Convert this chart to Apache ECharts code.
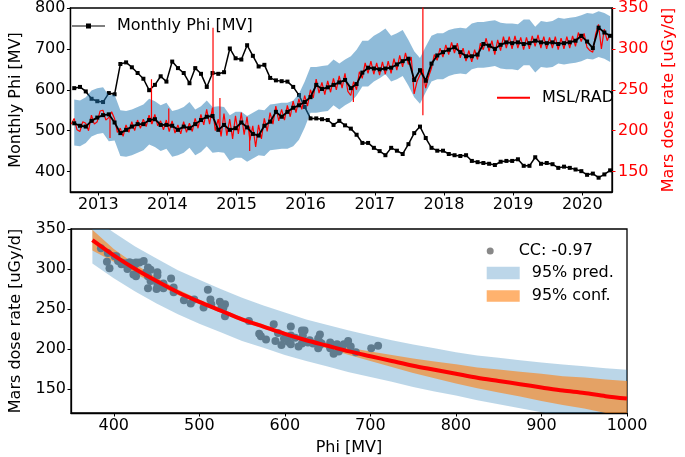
<!DOCTYPE html>
<html><head><meta charset="utf-8">
<script src="https://cdn.jsdelivr.net/npm/echarts@6/dist/echarts.min.js"></script>
<style>html,body{margin:0;padding:0;background:#fff}#c{width:685px;height:457px}</style>
</head><body><div id="c"></div>
<script>
// ---------- data ----------
const monthStart = 2012.653;      // decimal year of first monthly value
const monthStep = 1 / 12;
const monthlyPhi = [604,607,596,578,572,570,592,589,663,667,
 655,641,627,599,612,633,620,669,653,641,
 616,653,639,607,641,639,643,701,677,674,
 709,683,657,661,629,623,621,620,607,587,
 558,530,530,528,526,514,524,513,505,490,
 470,470,458,450,440,458,451,443,467,494,
 510,482,458,451,451,443,440,438,440,426,
 423,421,419,416,424,426,426,430,414,414,
 435,419,421,418,409,412,409,405,401,392,
 395,385,393,403];
const monthlyDose = [209,206,205,212,216,219,220,210,197,201,
 205,208,208,213,214,207,207,206,201,205,
 203,208,213,217,218,201,207,201,203,210,
 204,196,194,206,211,223,217,223,228,231,
 235,241,256,251,253,256,259,262,252,257,
 271,277,276,275,276,277,281,285,288,262,
 274,261,282,292,296,299,302,296,291,291,
 293,306,304,300,305,308,307,308,306,307,
 310,308,307,308,306,307,308,310,316,309,
 301,326,320,316];
const predBandLow = [182,181,185,193,196,197,187,188,169,168,
 170,173,176,183,180,175,178,168,170,173,
 179,170,174,181,173,174,173,163,167,167,
 162,166,170,169,176,177,178,178,181,189,
 204,222,222,223,224,231,226,231,235,243,
 254,254,260,264,269,260,263,267,255,241,
 233,247,260,263,263,267,269,270,269,275,
 277,277,278,279,276,275,275,274,280,280,
 271,278,277,278,282,281,282,283,285,288,
 287,290,288,284];
const predBandHigh = [238,237,241,249,252,253,243,244,225,224,
 226,229,232,239,236,231,234,224,226,229,
 235,226,230,237,229,230,229,219,223,223,
 218,222,226,225,232,233,234,234,237,245,
 260,278,278,279,280,287,282,287,291,299,
 310,310,316,320,325,316,319,323,311,297,
 289,303,316,319,319,323,325,326,325,331,
 333,333,334,335,332,331,331,330,336,336,
 327,334,333,334,338,337,338,339,341,344,
 343,346,344,340];

const radStart = 2012.61;          // MSL/RAD series, half-month samples
const radStep = 1 / 24;
const radDose = [208,
 215,201, 199,211, 209,200, 219,208, 211,224, 225,213, 216,223, 215,198, 203,193, 207,198,
 211,200, 213,203, 214,205, 219,208, 220,206, 212,201, 213,199, 212,197, 207,196, 211,198,
 209,199, 215,203, 220,207, 226,208, 228,200, 214,193, 221,194, 214,190, 218,196, 222,195,
 217,188, 206,180, 207,190, 215,199, 222,208, 230,212, 226,213, 231,217, 236,222, 239,226,
 243,230, 250,240, 263,246, 259,244, 261,247, 264,250, 267,252, 270,248, 243,260, 250,272,
 264,283, 270,285, 269,283, 268,284, 269,285, 270,288, 274,292, 278,295, 281,290, 245,260,
 268,275, 252,266, 276,293, 286,301, 290,305, 293,308, 295,307, 289,301, 285,298, 284,299,
 287,307, 299,313, 297,310, 293,311, 298,315, 301,315, 300,316, 301,314, 299,314, 300,316,
 303,317, 301,315, 300,314, 301,315, 299,313, 300,315, 301,316, 303,320, 309,319, 302,298,
 296,318, 330,300, 324,310, 318];
const spikeYear = [2013.17, 2013.77, 2014.02, 2014.66, 2014.76, 2015.19, 2016.69, 2017.695];
const spikeLow  = [191, 208, 205, 215, 205, 175, 235, 219];
const spikeHigh = [220, 263, 227, 326, 240, 205, 256, 360];

const fitPhi   = [375,400,425,450,475,500,525,550,575,600,625,650,675,700,725,750,775,800,825,850,875,900,925,950,975,1000];
const fitDose  = [336,317,300,285,271,259,248,237,228,219,211,204,197,191,185,179,174,169,164,160,156,152,148,145,141,138];
const predLow  = [307,288.5,272,257,243.5,231.5,221,210,201.5,192.5,185,178,171,165,159,152.5,147,142,136,131,126,121,115.5,111.5,106,102];
const predHigh = [365,345.5,328,313,298.5,286.5,275,264,254.5,245.5,237,230,223,217,211,205.5,201,196,192,189,186,183,180.5,178.5,176,174];
const confLow  = [323,309,294,280.5,267.5,256,245.5,234.5,225.5,216.5,208,200.5,192.5,185,177.5,170,163.5,157,151,145.5,140.5,135,130,125.5,120,116];
const confHigh = [349,325,306,289.5,274.5,262,250.5,239.5,230.5,221.5,214,207.5,201.5,197,192.5,188,184.5,181,177,174.5,171.5,169,166,164.5,162,160];

const yearTicks = [2013,2014,2015,2016,2017,2018,2019,2020];
const phiTicksTop = [400,500,600,700,800];
const doseTicksTop = [150,200,250,300,350];
const phiTicksBottom = [400,500,600,700,800,900,1000];
const doseTicksBottom = [150,200,250,300,350];
const ccLabel = 'CC: -0.97';

// ---------- chart ----------
const FONT = 'DejaVu Sans';
const monthX = i => monthStart + i * monthStep;
const phiData = monthlyPhi.map((v, i) => [monthX(i), v]);
const doseData = monthlyDose.map((v, i) => [monthX(i), v]);
const radData = radDose.map((v, k) => [radStart + k * radStep, v]);

function axis(o) {
  const base = {
    type: 'value', scale: true,
    splitLine: {show: false},
    axisLine: {show: true, onZero: false, lineStyle: {color: '#000', width: 1.3}},
    axisTick: {show: true, length: 3.5, lineStyle: {color: o.color || '#000', width: 1}, customValues: o.ticks},
    axisLabel: {customValues: o.ticks, fontSize: 16, fontFamily: FONT, color: o.color || '#000', margin: o.margin || 5,
      formatter: v => String(Math.round(v))},
    nameLocation: 'middle',
    nameTextStyle: {fontSize: 16, fontFamily: FONT, color: o.color || '#000'}
  };
  return Object.assign(base, o.extra);
}

// band polygon drawn through the axes' own scales
function band(name, xs, lo, hi, color, xi, yi, z) {
  return {
    type: 'custom', name: name, xAxisIndex: xi, yAxisIndex: yi, z: z, silent: true,
    itemStyle: {color: color},
    data: [[xs[0], lo[0]]],
    renderItem: (params, api) => {
      const pts = [];
      for (let i = 0; i < xs.length; i++) pts.push(api.coord([xs[i], hi[i]]));
      for (let i = xs.length - 1; i >= 0; i--) pts.push(api.coord([xs[i], lo[i]]));
      const cs = params.coordSys;
      return {
        type: 'polygon', shape: {points: pts}, style: {fill: color},
        clipPath: {type: 'rect', shape: {x: cs.x, y: cs.y, width: cs.width, height: cs.height}}
      };
    }
  };
}

const monthXs = monthlyPhi.map((v, i) => monthX(i));

const spikeSeries = spikeYear.map((y, i) => ({
  type: 'line', name: 'spike' + i, xAxisIndex: 0, yAxisIndex: 1, symbol: 'none', z: 4,
  lineStyle: {color: '#ff0000', width: 1.2}, data: [[y, spikeLow[i]], [y, spikeHigh[i]]]
}));

const legendText = {fontSize: 16, fontFamily: FONT, color: '#000', lineHeight: 16, padding: [0, 0, 0, 7]};

const option = {
  animation: false,
  backgroundColor: '#fff',
  grid: [
    {left: 58, right: 58, top: 5, height: 187, show: true, borderColor: '#000', borderWidth: 1.3, backgroundColor: 'transparent'},
    {left: 58, right: 58, top: 229, height: 187, show: true, borderColor: '#000', borderWidth: 1.3, backgroundColor: 'transparent'}
  ],
  xAxis: [
    axis({ticks: yearTicks, extra: {gridIndex: 0, min: 2012.598, max: 2020.43}}),
    axis({ticks: phiTicksBottom, extra: {gridIndex: 1, min: 350, max: 1000, name: 'Phi [MV]', nameGap: 27}})
  ],
  yAxis: [
    axis({ticks: phiTicksTop, extra: {gridIndex: 0, min: 350, max: 800, name: 'Monthly Phi [MV]', nameGap: 46, nameRotate: 90}}),
    axis({ticks: doseTicksTop, color: '#ff0000', margin: 6, extra: {gridIndex: 0, position: 'right', min: 125, max: 350,
      name: 'Mars dose rate [uGy/d]', nameGap: 49, nameRotate: 90}}),
    axis({ticks: doseTicksBottom, extra: {gridIndex: 1, min: 120, max: 350, name: 'Mars dose rate [uGy/d]', nameGap: 47, nameRotate: 90}})
  ],
  legend: [
    {data: [{name: 'Monthly Phi [MV]', icon: 'path://M0,2.4H33V3.6H0Z M14,0.5H19V5.5H14Z'}], left: 72, top: 18, padding: 0,
     itemWidth: 33, itemHeight: 6, selectedMode: false, textStyle: legendText, itemStyle: {borderWidth: 0}},
    {data: [{name: 'MSL/RAD', icon: 'rect'}], left: 497, top: 89.7, padding: 0,
     itemWidth: 33, itemHeight: 2, selectedMode: false, textStyle: legendText, itemStyle: {borderWidth: 0}},
    {data: [{name: ccLabel, icon: 'circle', itemStyle: {color: '#888888'}}], left: 486.7, top: 243, padding: 0,
     itemWidth: 33, itemHeight: 7, selectedMode: false, textStyle: legendText},
    {data: [{name: '95% pred.', icon: 'rect', itemStyle: {color: '#bcd6e9'}}], left: 486.7, top: 265, padding: 0,
     itemWidth: 33, itemHeight: 12.6, selectedMode: false, textStyle: legendText},
    {data: [{name: '95% conf.', icon: 'rect', itemStyle: {color: '#ffb26e'}}], left: 486.7, top: 288, padding: 0,
     itemWidth: 33, itemHeight: 11.6, selectedMode: false, textStyle: legendText}
  ],
  series: [
    {type: 'line', name: 'Monthly Phi [MV]', xAxisIndex: 0, yAxisIndex: 0, data: phiData, z: 2,
     symbol: 'rect', symbolSize: 4, lineStyle: {color: '#000', width: 1.5}, itemStyle: {color: '#000'}},
    band('bandTop', monthXs, predBandLow, predBandHigh, 'rgba(31,119,180,0.5)', 0, 1, 3),
    {type: 'line', name: 'MSL/RAD', xAxisIndex: 0, yAxisIndex: 1, data: radData, symbol: 'none', z: 4,
     lineStyle: {color: '#ff0000', width: 1.2}, itemStyle: {color: '#ff0000'}},
    ...spikeSeries,
    {type: 'line', name: 'monthlyDose', xAxisIndex: 0, yAxisIndex: 1, data: doseData, z: 5,
     symbol: 'rect', symbolSize: 4, lineStyle: {color: '#000', width: 1.8}, itemStyle: {color: '#000'}},
    band('95% pred.', fitPhi, predLow, predHigh, 'rgba(31,119,180,0.3)', 1, 2, 2),
    band('95% conf.', fitPhi, confLow, confHigh, 'rgba(255,127,14,0.6)', 1, 2, 3),
    {type: 'scatter', name: ccLabel, xAxisIndex: 1, yAxisIndex: 2, z: 4,
     data: monthlyPhi.map((p, i) => [p, monthlyDose[i]]), symbolSize: 8, itemStyle: {color: '#5f7b8e', opacity: 1}},
    {type: 'line', name: 'fit', xAxisIndex: 1, yAxisIndex: 2, data: fitPhi.map((p, i) => [p, fitDose[i]]), z: 5,
     symbol: 'none', smooth: 0.3, lineStyle: {color: '#ff0000', width: 4}}
  ]
};
const chart = echarts.init(document.getElementById('c'), null, {renderer: 'canvas'});
chart.setOption(option);
</script>
</body></html>
